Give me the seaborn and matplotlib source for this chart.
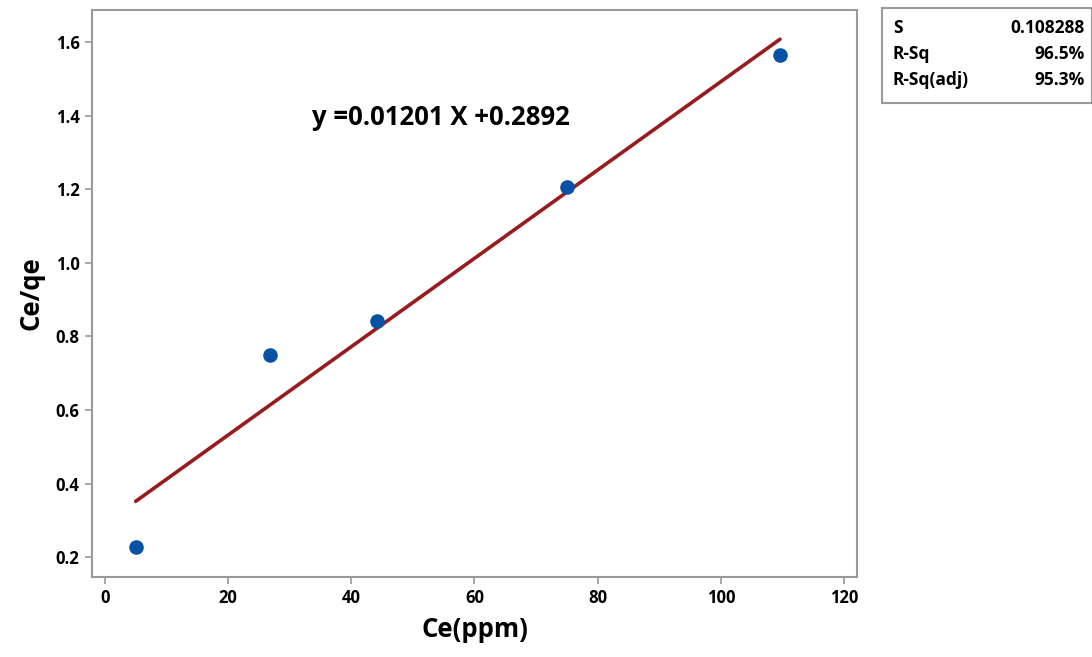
import pandas as pd
import seaborn as sns
from matplotlib import pyplot as plt
from matplotlib.patches import Rectangle

sns.set_theme(style='white')
plt.rcParams['font.family'] = ['Open Sans', 'DejaVu Sans']
plt.rcParams['text.color'] = 'black'
plt.rcParams['axes.labelcolor'] = 'black'
plt.rcParams['xtick.color'] = 'black'
plt.rcParams['ytick.color'] = 'black'

# data
ce = [5.0, 26.8, 44.2, 75.1, 109.6]
ce_qe = [0.228, 0.749, 0.842, 1.205, 1.564]
x_ticks = [0, 20, 40, 60, 80, 100, 120]
y_ticks = [0.2, 0.4, 0.6, 0.8, 1.0, 1.2, 1.4, 1.6]
stat_names = ['S', 'R-Sq', 'R-Sq(adj)']
stat_values = ['0.108288', '96.5%', '95.3%']
equation = 'y =0.01201 X +0.2892'

df = pd.DataFrame({'Ce(ppm)': ce, 'Ce/qe': ce_qe})

fig = plt.figure(figsize=(10.92, 6.57), dpi=100)
ax = fig.add_axes([0.0842, 0.1218, 0.7006, 0.863])

sns.regplot(data=df, x='Ce(ppm)', y='Ce/qe', ax=ax, ci=None,
            scatter_kws={'s': 110, 'color': '#0852A4', 'alpha': 1, 'zorder': 3, 'linewidths': 0},
            line_kws={'color': '#981B1E', 'lw': 2.6, 'zorder': 2})

ax.set_xlim(-2.1, 122.1)
ax.set_ylim(0.146, 1.687)
ax.set_xticks(x_ticks)
ax.set_yticks(y_ticks)
ax.set_xticklabels([str(t) for t in x_ticks])
ax.set_yticklabels([f'{t:.1f}' for t in y_ticks])
ax.tick_params(axis='both', which='both', direction='out', length=5, width=1.2,
               color='#9a9a9a', labelcolor='black', labelsize=12, pad=4,
               bottom=True, left=True)
for lab in ax.get_xticklabels() + ax.get_yticklabels():
    lab.set_fontweight('bold')
for sp in ax.spines.values():
    sp.set_color('#9a9a9a')
    sp.set_linewidth(1.5)

ax.set_xlabel('Ce(ppm)', fontsize=18.5, fontweight='bold', labelpad=6)
ax.set_ylabel('Ce/qe', fontsize=18.5, fontweight='bold', labelpad=8)

ax.text(0.288, 0.811, equation, transform=ax.transAxes, fontsize=18.5,
        fontweight='bold', ha='left', va='center')

# stats box
fig.patches.append(Rectangle((882 / 1092, 1 - 103 / 657), 210 / 1092, 95 / 657,
                             transform=fig.transFigure, fill=False,
                             edgecolor='#9a9a9a', lw=1.5))
for i, (n, v) in enumerate(zip(stat_names, stat_values)):
    yy = 1 - (28 + i * 26) / 657
    fig.text(893 / 1092, yy, n, fontsize=12.5, fontweight='bold', va='center', ha='left')
    fig.text(1085 / 1092, yy, v, fontsize=12.5, fontweight='bold', va='center', ha='right')

fig.savefig('out.png', dpi=100)
